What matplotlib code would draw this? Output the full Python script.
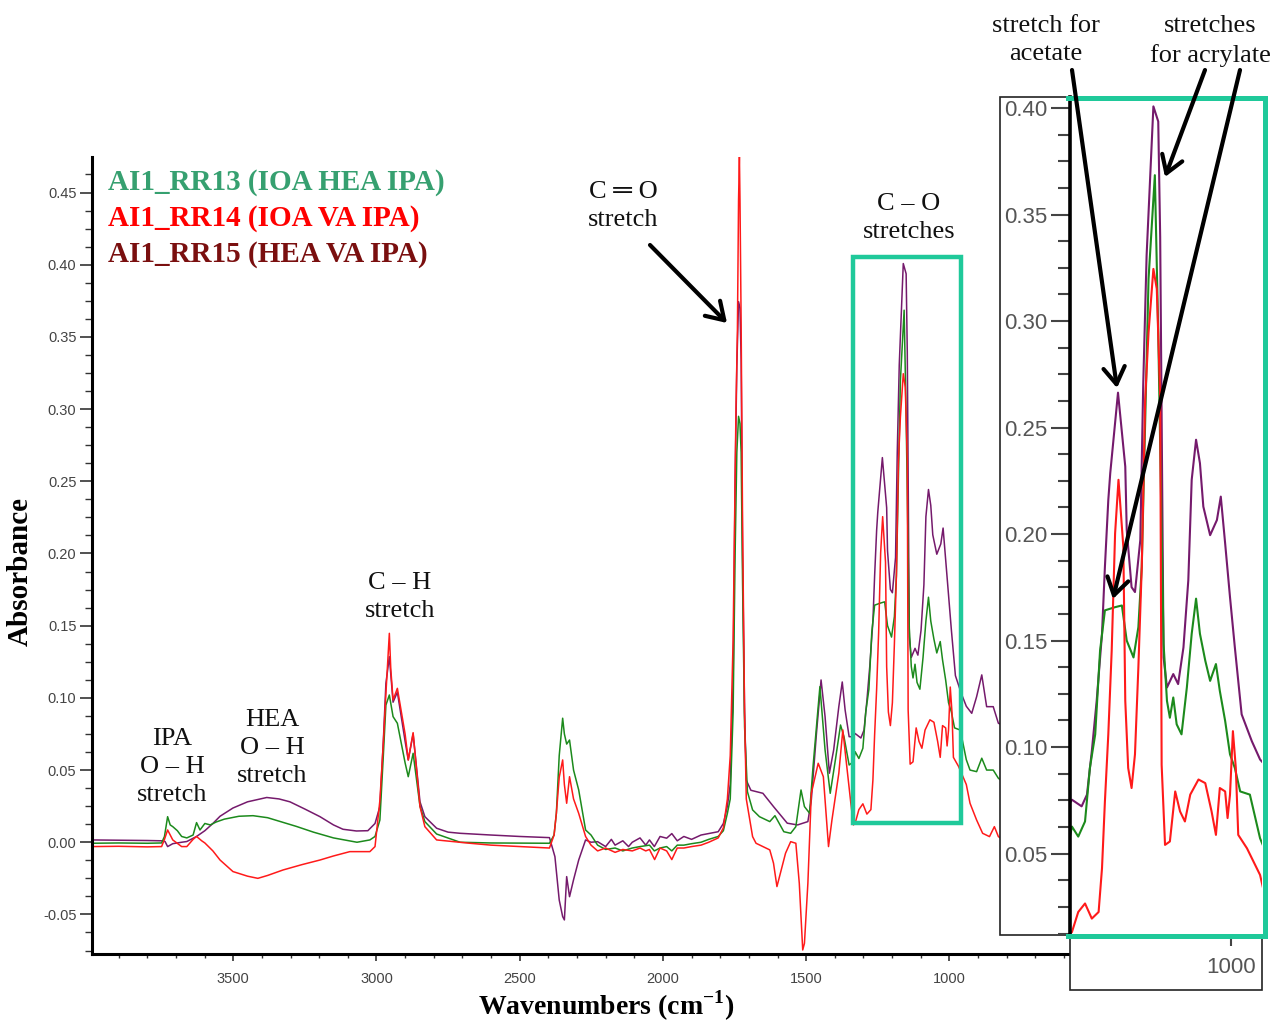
import matplotlib
matplotlib.use('Agg')
import matplotlib.pyplot as plt
from matplotlib.patches import Rectangle, FancyArrowPatch
from matplotlib.lines import Line2D
from matplotlib.ticker import MultipleLocator, FixedLocator, FormatStrFormatter

# ---------------- data (wavenumber cm-1, absorbance) ----------------
rr15_wn = [3994, 3900, 3800, 3750, 3738, 3729, 3711, 3680, 3662, 3628, 3599, 3571, 3546, 3501, 3450, 3383,
           3340, 3302, 3250, 3197, 3150, 3117, 3070, 3030, 3005, 2988, 2976, 2967, 2955, 2942, 2927, 2900,
           2889, 2872, 2848, 2831, 2790, 2750, 2708, 2600, 2500, 2396, 2377, 2362, 2350, 2344, 2336, 2326,
           2312, 2294, 2270, 2251, 2228, 2200, 2180, 2167, 2140, 2120, 2107, 2080, 2060, 2047, 2030, 2010,
           1987, 1969, 1950, 1927, 1900, 1867, 1840, 1807, 1789, 1775, 1765, 1755, 1748, 1742, 1736, 1731,
           1727, 1722, 1715, 1709, 1693, 1651, 1614, 1566, 1530, 1494, 1482, 1464, 1448, 1434, 1419, 1404,
           1386, 1374, 1364, 1350, 1335, 1329, 1309, 1298, 1288, 1278, 1267, 1261, 1254, 1250, 1234, 1219,
           1216, 1206, 1199, 1188, 1182, 1175, 1161, 1151, 1147, 1140, 1133, 1120, 1110, 1099, 1089, 1082,
           1073, 1065, 1058, 1044, 1030, 1022, 1013, 1003, 993, 979, 958, 941, 922, 905, 887, 870, 847, 829, 800]
rr15_abs = [0.0016, 0.0014, 0.0012, 0.0010, 0.0005, -0.0030, -0.0010, 0.0000, 0.0005, 0.0040, 0.0080, 0.0130,
            0.0180, 0.0237, 0.0280, 0.0310, 0.0300, 0.0280, 0.0230, 0.0177, 0.0120, 0.0090, 0.0078, 0.0080,
            0.0130, 0.0247, 0.0700, 0.1100, 0.1285, 0.0970, 0.1040, 0.0700, 0.0570, 0.0750, 0.0280, 0.0177,
            0.0097, 0.0070, 0.0062, 0.0050, 0.0040, 0.0032, -0.0100, -0.0400, -0.0515, -0.0538, -0.0238,
            -0.0377, -0.0260, -0.0123, 0.0016, 0.0000, 0.0004, -0.0030, 0.0020, -0.0020, 0.0010, -0.0030,
            0.0000, 0.0030, -0.0020, 0.0016, -0.0030, 0.0040, 0.0028, 0.0060, 0.0010, 0.0040, 0.0020, 0.0050,
            0.0060, 0.0073, 0.0130, 0.0250, 0.0400, 0.1100, 0.2500, 0.3300, 0.3744, 0.3700, 0.3340, 0.2000,
            0.0900, 0.0430, 0.0360, 0.0339, 0.0247, 0.0132, 0.0120, 0.0143, 0.0293, 0.0755, 0.1124, 0.0870,
            0.0478, 0.0639, 0.0939, 0.1110, 0.0916, 0.0731, 0.0731, 0.0753, 0.0722, 0.0777, 0.0981, 0.1217,
            0.1532, 0.1846, 0.2160, 0.2286, 0.2664, 0.2317, 0.2019, 0.1751, 0.1728, 0.1972, 0.2700, 0.3308,
            0.4008, 0.3937, 0.3395, 0.1421, 0.1280, 0.1343, 0.1296, 0.1468, 0.1783, 0.2255, 0.2443, 0.2333,
            0.2129, 0.1995, 0.2066, 0.2176, 0.1956, 0.1704, 0.1468, 0.1154, 0.1028, 0.0942, 0.0893, 0.1008,
            0.1159, 0.0939, 0.0939, 0.0824, 0.0800]

rr13_wn = [3994, 3900, 3800, 3750, 3740, 3729, 3720, 3711, 3695, 3680, 3662, 3640, 3628, 3616, 3599, 3580,
           3560, 3531, 3480, 3431, 3380, 3330, 3280, 3220, 3150, 3068, 3023, 3005, 2988, 2976, 2967, 2955,
           2942, 2927, 2900, 2889, 2872, 2848, 2831, 2790, 2708, 2600, 2500, 2396, 2380, 2372, 2362, 2350,
           2344, 2336, 2326, 2312, 2294, 2270, 2251, 2228, 2200, 2167, 2140, 2107, 2080, 2047, 2030, 2010,
           1987, 1969, 1950, 1927, 1900, 1867, 1840, 1807, 1789, 1775, 1765, 1755, 1748, 1742, 1736, 1731,
           1727, 1722, 1715, 1705, 1687, 1663, 1627, 1609, 1578, 1554, 1536, 1518, 1506, 1488, 1476, 1452,
           1434, 1416, 1398, 1380, 1368, 1350, 1335, 1329, 1316, 1302, 1292, 1281, 1271, 1261, 1240, 1226,
           1216, 1202, 1192, 1185, 1171, 1158, 1151, 1140, 1133, 1127, 1120, 1113, 1103, 1092, 1082, 1073,
           1065, 1054, 1044, 1032, 1024, 1013, 1003, 993, 982, 962, 941, 928, 905, 887, 870, 847, 829, 800]
rr13_abs = [-0.0007, -0.0005, -0.0007, -0.0005, 0.0040, 0.0177, 0.0120, 0.0108, 0.0080, 0.0040, 0.0030,
            0.0050, 0.0136, 0.0085, 0.0130, 0.0120, 0.0140, 0.0160, 0.0180, 0.0184, 0.0170, 0.0140, 0.0110,
            0.0070, 0.0030, 0.0000, 0.0016, 0.0040, 0.0154, 0.0600, 0.0950, 0.1020, 0.0870, 0.0824, 0.0550,
            0.0454, 0.0616, 0.0250, 0.0143, 0.0057, 0.0000, -0.0005, -0.0006, -0.0007, 0.0050, 0.0200, 0.0600,
            0.0859, 0.0750, 0.0680, 0.0708, 0.0500, 0.0362, 0.0085, 0.0050, -0.0020, -0.0050, -0.0040, -0.0060,
            -0.0040, -0.0030, -0.0020, -0.0060, -0.0040, -0.0030, -0.0060, -0.0020, -0.0020, -0.0010, 0.0000,
            0.0020, 0.0040, 0.0080, 0.0200, 0.0300, 0.0900, 0.2000, 0.2700, 0.2950, 0.2900, 0.2700, 0.1800,
            0.0800, 0.0350, 0.0224, 0.0177, 0.0143, 0.0184, 0.0073, 0.0062, 0.0108, 0.0362, 0.0247, 0.0201,
            0.0524, 0.1078, 0.0639, 0.0339, 0.0570, 0.0812, 0.0731, 0.0535, 0.0558, 0.0627, 0.0580, 0.0651,
            0.0902, 0.1060, 0.1453, 0.1642, 0.1657, 0.1665, 0.1500, 0.1421, 0.1563, 0.1846, 0.3198, 0.3685,
            0.2946, 0.1484, 0.1217, 0.1138, 0.1233, 0.1107, 0.1060, 0.1280, 0.1532, 0.1697, 0.1532, 0.1406,
            0.1311, 0.1390, 0.1264, 0.1123, 0.0966, 0.0902, 0.0792, 0.0777, 0.0572, 0.0500, 0.0489, 0.0582,
            0.0500, 0.0500, 0.0443, 0.0400]

rr14_wn = [3994, 3900, 3800, 3750, 3740, 3729, 3711, 3680, 3662, 3640, 3628, 3610, 3599, 3571, 3546, 3501,
           3450, 3414, 3380, 3326, 3260, 3197, 3150, 3093, 3023, 3005, 2988, 2976, 2967, 2955, 2950, 2942,
           2927, 2900, 2889, 2872, 2848, 2831, 2790, 2674, 2600, 2500, 2396, 2380, 2372, 2362, 2350, 2344,
           2336, 2326, 2312, 2294, 2270, 2251, 2228, 2200, 2167, 2140, 2107, 2080, 2060, 2047, 2029, 2010,
           1987, 1969, 1950, 1927, 1900, 1867, 1840, 1807, 1789, 1775, 1765, 1755, 1745, 1740, 1736, 1733,
           1731, 1727, 1722, 1715, 1709, 1687, 1675, 1651, 1627, 1614, 1602, 1590, 1572, 1554, 1536, 1524,
           1512, 1506, 1494, 1482, 1458, 1440, 1422, 1410, 1386, 1372, 1362, 1344, 1335, 1329, 1316, 1302,
           1288, 1274, 1267, 1261, 1254, 1247, 1240, 1233, 1223, 1219, 1213, 1206, 1199, 1192, 1185, 1178,
           1171, 1161, 1154, 1147, 1144, 1137, 1127, 1116, 1106, 1096, 1085, 1068, 1054, 1041, 1032, 1024,
           1013, 1008, 1003, 997, 991, 986, 968, 941, 928, 905, 884, 860, 843, 829, 800]
rr14_abs = [-0.0030, -0.0028, -0.0032, -0.0030, 0.0020, 0.0085, 0.0016, -0.0030, -0.0030, 0.0020, 0.0040,
            0.0010, -0.0005, -0.0060, -0.0123, -0.0203, -0.0235, -0.0250, -0.0230, -0.0192, -0.0155, -0.0123,
            -0.0095, -0.0065, -0.0065, -0.0030, 0.0290, 0.0688, 0.1030, 0.1447, 0.1200, 0.0985, 0.1066, 0.0750,
            0.0570, 0.0759, 0.0247, 0.0108, 0.0016, -0.0007, -0.0020, -0.0030, -0.0040, 0.0050, 0.0200, 0.0450,
            0.0570, 0.0400, 0.0270, 0.0454, 0.0300, 0.0200, 0.0040, -0.0020, -0.0060, -0.0040, -0.0070, -0.0050,
            -0.0060, -0.0040, -0.0060, -0.0050, -0.0120, -0.0040, -0.0060, -0.0120, -0.0040, -0.0040, -0.0030,
            -0.0020, 0.0000, 0.0030, 0.0100, 0.0300, 0.0600, 0.1400, 0.3000, 0.3548, 0.4447, 0.4750, 0.4447,
            0.3600, 0.2200, 0.0900, 0.0300, 0.0039, -0.0007, -0.0030, -0.0053, -0.0145, -0.0307, -0.0215,
            -0.0076, 0.0004, -0.0007, -0.0284, -0.0746, -0.0700, -0.0284, 0.0339, 0.0547, 0.0454, -0.0030,
            0.0154, 0.0478, 0.0778, 0.0593, 0.0270, 0.0120, 0.0132, 0.0226, 0.0266, 0.0195, 0.0226, 0.0431,
            0.0745, 0.1060, 0.1453, 0.2003, 0.2255, 0.1940, 0.1217, 0.0902, 0.0808, 0.0966, 0.1374, 0.1846,
            0.2632, 0.2946, 0.3245, 0.3151, 0.2647, 0.0917, 0.0541, 0.0557, 0.0792, 0.0698, 0.0651, 0.0777,
            0.0848, 0.0831, 0.0698, 0.0588, 0.0808, 0.0792, 0.0667, 0.0777, 0.1075, 0.0902, 0.0588, 0.0525,
            0.0400, 0.0270, 0.0154, 0.0062, 0.0039, 0.0108, 0.0039, 0.0000]

series = [
    ("AI1_RR15 (HEA VA IPA)", rr15_wn, rr15_abs, "#751a6c", "#7a0f0f"),
    ("AI1_RR13 (IOA HEA IPA)", rr13_wn, rr13_abs, "#1c8a1c", "#36a070"),
    ("AI1_RR14 (IOA VA IPA)", rr14_wn, rr14_abs, "#ff1a1a", "#ff0000"),
]
legend_order = [1, 2, 0]

main_xticks = [3500, 3000, 2500, 2000, 1500, 1000]
main_yticks = [-0.05, 0.00, 0.05, 0.10, 0.15, 0.20, 0.25, 0.30, 0.35, 0.40, 0.45]
inset_yticks = [0.05, 0.10, 0.15, 0.20, 0.25, 0.30, 0.35, 0.40]

# ---------------- figure ----------------
W, H = 1276, 1025
plt.rcParams['font.family'] = ['Liberation Sans', 'DejaVu Sans']
plt.rcParams['mathtext.fontset'] = 'custom'
plt.rcParams['mathtext.rm'] = 'Liberation Serif'
plt.rcParams['mathtext.bf'] = 'Liberation Serif:bold'

fig = plt.figure(figsize=(W / 100, H / 100), dpi=100)


def fx(x):
    return x / W


def fy(y):
    return 1 - y / H


SERIF = ['Liberation Serif', 'DejaVu Serif']
TEAL = '#1fc99a'

# main axes
ax = fig.add_axes([fx(91.7), fy(954), fx(1070) - fx(91.7), fy(157) - fy(954)])
for name, wn, ab, col, _ in series:
    ax.plot(wn, ab, color=col, lw=1.1)
ax.set_xlim(3994, 579)
ax.set_ylim(-0.0774, 0.4746)
for s in ['top', 'right']:
    ax.spines[s].set_visible(False)
for s in ['left', 'bottom']:
    ax.spines[s].set_linewidth(2.2)
    ax.spines[s].set_color('black')
ax.xaxis.set_major_locator(FixedLocator(main_xticks))
ax.xaxis.set_minor_locator(MultipleLocator(100))
ax.yaxis.set_major_locator(FixedLocator(main_yticks))
ax.yaxis.set_minor_locator(MultipleLocator(0.0125))
ax.yaxis.set_major_formatter(FormatStrFormatter('%.2f'))
ax.tick_params(axis='y', which='major', length=9, width=1.2, color='#333', labelsize=10.5, labelcolor='#444', pad=2)
ax.tick_params(axis='y', which='minor', length=5, width=1.0, color='#333')
ax.tick_params(axis='x', which='major', length=5, width=1.2, color='#333', labelsize=10.5, labelcolor='#444', pad=8)
ax.tick_params(axis='x', which='minor', length=3, width=1.0, color='#333')

# box marking the C-O region
ax.add_patch(Rectangle((959, 0.0132), 1338 - 959, 0.4053 - 0.0132, fill=False, edgecolor=TEAL, lw=3.2, zorder=5))

# axis labels
fig.text(fx(606), fy(1006), r'Wavenumbers (cm$^{\mathbf{-1}}$)', ha='center', va='center',
         fontsize=20, fontweight='bold', family=SERIF)
fig.text(fx(20), fy(572), 'Absorbance', ha='center', va='center', rotation=90,
         fontsize=21, fontweight='bold', family=SERIF)

# legend texts
for i, yy in zip(legend_order, [183, 218, 254]):
    name, _, _, _, tcol = series[i]
    fig.text(fx(108), fy(yy), name, ha='left', va='center', fontsize=21, fontweight='bold',
             color=tcol, family=SERIF)

# annotations
notes = [
    ("IPA\nO \u2013 H\nstretch", 172, 767),
    ("HEA\nO \u2013 H\nstretch", 272, 748),
    ("C \u2013 H\nstretch", 400, 597),
    ("C \u2550 O\nstretch", 623, 206),
    ("C \u2013 O\nstretches", 909, 218),
    ("stretch for\nacetate", 1046, 40),
    ("stretches\nfor acrylate", 1210, 41),
]
for txt, x, y in notes:
    fig.text(fx(x), fy(y), txt, ha='center', va='center', multialignment='center',
             fontsize=19, family=['Liberation Serif', 'DejaVu Sans'], color='#111', linespacing=1.38)

# inset label boxes
fig.add_artist(Rectangle((fx(1000), fy(935)), fx(1070) - fx(1000), fy(97) - fy(935), transform=fig.transFigure,
                         facecolor='white', edgecolor='#222', lw=1.2, zorder=1))
fig.add_artist(Rectangle((fx(1070), fy(990)), fx(1262) - fx(1070), fy(935) - fy(990), transform=fig.transFigure,
                         facecolor='white', edgecolor='#222', lw=1.2, zorder=1))

# inset axes
ax2 = fig.add_axes([fx(1070), fy(935), fx(1262) - fx(1070), fy(97) - fy(935)], zorder=2)
ax2.set_facecolor('white')
for name, wn, ab, col, _ in series:
    ax2.plot(wn, ab, color=col, lw=1.5)
ax2.set_xlim(1333, 937)
ax2.set_ylim(0.0118, 0.4052)
for s in ['top', 'right', 'bottom']:
    ax2.spines[s].set_visible(False)
ax2.spines['left'].set_linewidth(2.6)
ax2.spines['left'].set_color('black')
ax2.spines['left'].set_zorder(10)
ax2.yaxis.set_major_locator(FixedLocator(inset_yticks))
ax2.yaxis.set_minor_locator(MultipleLocator(0.0125))
ax2.yaxis.set_major_formatter(FormatStrFormatter('%.2f'))
ax2.xaxis.set_major_locator(FixedLocator([1000]))
ax2.xaxis.set_minor_locator(FixedLocator([1300, 1200, 1100]))
ax2.tick_params(axis='y', which='major', length=14, width=1.5, color='#444', labelsize=16, labelcolor='#555', pad=2)
ax2.tick_params(axis='y', which='minor', length=9, width=1.5, color='#444')
ax2.tick_params(axis='x', which='major', length=8, width=1.5, color='#444', labelsize=16, labelcolor='#555', pad=8)
ax2.tick_params(axis='x', which='minor', length=3, width=1.2, color='#444')

# teal frame around the inset (top, right, bottom sides; left side is the black spine)
frame_x = [1068, 1265, 1265, 1068]
frame_y = [98, 98, 936, 936]
fig.add_artist(Line2D([fx(v) for v in frame_x], [fy(v) for v in frame_y], transform=fig.transFigure,
                      color=TEAL, lw=3.6, zorder=3, solid_joinstyle='miter'))

# arrows
arrows = [((650, 245), (727, 323)),
          ((1072, 70), (1117, 388)),
          ((1205, 70), (1165, 177)),
          ((1240, 70), (1113, 599))]
for (x0, y0), (x1, y1) in arrows:
    fig.add_artist(FancyArrowPatch((fx(x0), fy(y0)), (fx(x1), fy(y1)), transform=fig.transFigure,
                                   arrowstyle='->,head_length=0.55,head_width=0.35', mutation_scale=22,
                                   lw=3, color='black', zorder=5, shrinkA=0, shrinkB=0))

fig.savefig('out.png', dpi=100)
